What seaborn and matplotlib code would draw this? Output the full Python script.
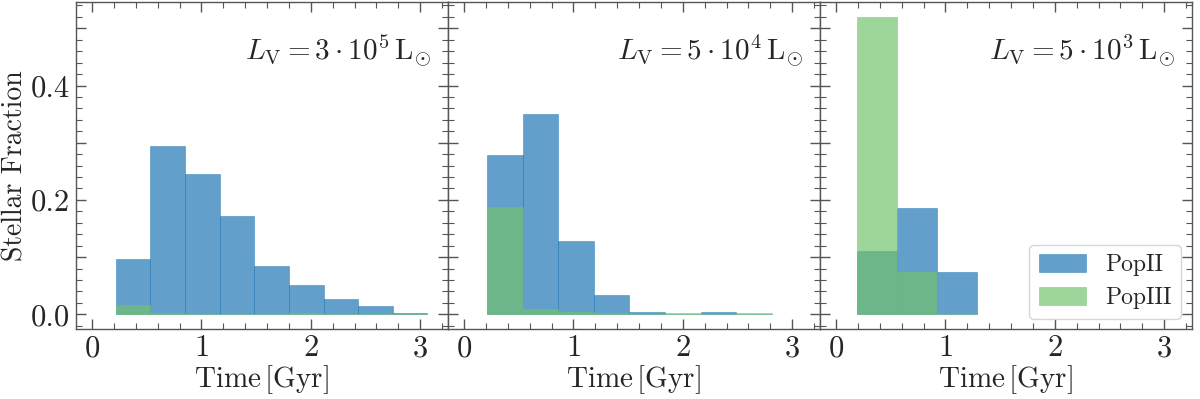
import numpy as np
import matplotlib
matplotlib.use("Agg")
import matplotlib.pyplot as plt
import matplotlib.ticker as mticker
from matplotlib.colors import to_rgba
import seaborn as sns

# bin edges [Gyr] and stellar fractions for each luminosity
edges_1 = [0.216, 0.533, 0.850, 1.166, 1.483, 1.800, 2.116, 2.433, 2.750, 3.066]
pop2_1 = [0.097, 0.294, 0.245, 0.171, 0.084, 0.052, 0.027, 0.0145, 0.003]
pop3_1 = [0.016, 0.002, 0.001, 0.0005, 0.0005, 0.0015, 0.0005, 0.0005, 0.0005]

edges_2 = [0.211, 0.536, 0.861, 1.187, 1.512, 1.837, 2.163, 2.488, 2.813]
pop2_2 = [0.279, 0.351, 0.128, 0.033, 0.0035, 0.0, 0.0035, 0.0]
pop3_2 = [0.187, 0.010, 0.004, 0.0015, 0.0008, 0.0015, 0.0008, 0.0015]

edges_3 = [0.190, 0.556, 0.923, 1.289]
pop2_3 = [0.111, 0.185, 0.074]
pop3_3 = [0.519, 0.074, 0.0]

titles = [r"$L_{\rm V} = 3\cdot10^5\,{\rm L}_{\odot}$",
          r"$L_{\rm V} = 5\cdot10^4\,{\rm L}_{\odot}$",
          r"$L_{\rm V} = 5\cdot10^3\,{\rm L}_{\odot}$"]

panels = [(edges_1, pop2_1, pop3_1), (edges_2, pop2_2, pop3_2), (edges_3, pop2_3, pop3_3)]

sns.set_style("ticks")
plt.rcParams["font.family"] = "serif"
plt.rcParams["font.serif"] = ["cmr10", "DejaVu Serif"]
plt.rcParams["mathtext.fontset"] = "cm"
plt.rcParams["axes.formatter.use_mathtext"] = True

blue = "#1f77b4"
green = "#71c26b"

fig, axes = plt.subplots(1, 3, figsize=(12, 3.99), dpi=100, sharey=True)
fig.subplots_adjust(left=0.063, right=0.993, top=0.995, bottom=0.175, wspace=0)

for i, (ax, (edges, p2, p3)) in enumerate(zip(axes, panels)):
    centers = [(a + b) / 2 for a, b in zip(edges[:-1], edges[1:])]
    sns.histplot(x=centers, weights=p2, bins=edges, color=blue, alpha=0.7,
                 edgecolor=to_rgba(blue, 0.45), linewidth=0.7, ax=ax, label="PopII")
    sns.histplot(x=centers, weights=p3, bins=edges, color=green, alpha=0.68,
                 edgecolor=to_rgba(green, 0.45), linewidth=0.7, ax=ax, label="PopIII")
    ax.set_xlim(-0.15, 3.25)
    ax.set_xlabel(r"Time$\,$[Gyr]", fontsize=21, labelpad=1)
    ax.set_ylabel("")
    ax.xaxis.set_major_locator(mticker.MultipleLocator(1))
    ax.xaxis.set_minor_locator(mticker.MultipleLocator(0.2))
    ax.yaxis.set_major_locator(mticker.MultipleLocator(0.1))
    ax.yaxis.set_minor_locator(mticker.MultipleLocator(0.02))
    ax.yaxis.set_major_formatter(mticker.FuncFormatter(
        lambda v, p: f"{v:.1f}" if round(v * 10) % 2 == 0 else ""))
    ax.tick_params(which="both", direction="in", top=True, right=True,
                   color="#555555", labelsize=22, pad=4)
    ax.tick_params(which="major", length=7, width=1)
    ax.tick_params(which="minor", length=4, width=0.8)
    for s in ax.spines.values():
        s.set_color("#555555")
        s.set_linewidth(1)
    ax.text(0.955, 0.85, titles[i], transform=ax.transAxes, ha="right",
            va="center", fontsize=21)

axes[0].set_ylim(-0.026, 0.546)
axes[0].set_ylabel("Stellar Fraction", fontsize=20, labelpad=2)
for ax in axes[1:]:
    ax.tick_params(labelleft=False)

axes[2].legend(loc="lower right", fontsize=17, frameon=True, fancybox=True,
               handlelength=2.0, handleheight=0.75, borderpad=0.4,
               labelspacing=0.45, handletextpad=0.8, borderaxespad=0.45)

fig.savefig("out.png", dpi=100)
